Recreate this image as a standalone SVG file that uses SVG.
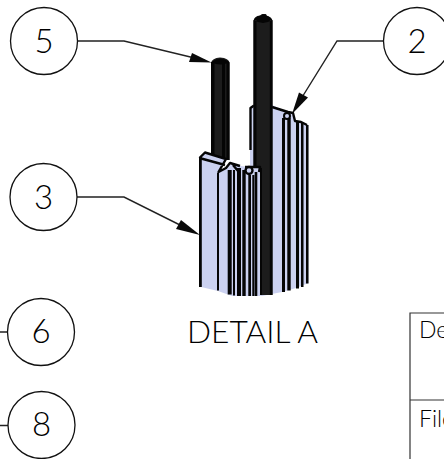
<svg xmlns="http://www.w3.org/2000/svg" width="444" height="459" viewBox="0 0 444 459">
<style>
text{font-family:"Lato","Liberation Sans",sans-serif;fill:#000;font-weight:300}
.num{font-size:33px;text-anchor:middle}
.bub{fill:#fff;stroke:#111;stroke-width:1.3}
.lead{fill:none;stroke:#222;stroke-width:1.4}
.ah{fill:#0a0a0a}
.blue{fill:#cbd1f0}
.dk{fill:#1c1c1c}
.blk{fill:#050505}
.edge{fill:none;stroke:#050505;stroke-width:2.400;stroke-linejoin:round}
.cell{fill:none;stroke:#333;stroke-width:1.200}
.cap{font-size:23px}
</style>
<rect width="444" height="459" fill="#fff"/>
<g id="part">
<path class="dk" d="M211 63Q212 58 220 57.500Q229 58 229.500 63V160H211Z"/>
<path class="blk" d="M211 62H214.500V160H211ZM222 62H225V160H222ZM226.500 62H229.500V160H226.500ZM211.500 62Q220 55 229.500 62Q220 67 211.500 62Z"/>
<path class="blue" d="M250 107L254 105H272L292 114L296 122L308.500 125V283L296 288L282 292L262 296L250 294Z"/>
<path class="edge" d="M250.500 150V108L254 105.500M272 107L288 112L293 113L295 121L301 122L307 125"/>
<circle cx="287" cy="116" r="3" fill="#cbd1f0" stroke="#050505" stroke-width="2"/>
<path class="blk" d="M282 118H285V292H282ZM287.300 118H290.700V290.500H287.300ZM296 122H299V288.500H296ZM301 123H303.500V287H301ZM306 125H308.500V283.500H306Z"/>
<path class="dk" d="M253.500 21Q254 16 260 15.500L262 14H266L267 16Q272 17 272.500 21V295H253.500Z"/>
<path class="blk" d="M253.500 20H256.500V295H253.500ZM269.800 20H272.500V295H269.800ZM260 168H262V295H260ZM254 20Q263 26 272 20Q270 16 266 15.500L264 14L261 15.500Q256 16 254 20Z"/>
<path class="blue" d="M199 157L205 152L226 159L219 172L226 168L233 163L240 166L260 168V296H232L218 291L199 286.500Z"/>
<path class="edge" d="M199.500 158L205 152.500L226 159L218.500 172L226 168L230 163L240 166M233 165L238 171M245 167H260L259 172M199.500 158L203 159L225 165"/>
<circle cx="249" cy="170.500" r="3.500" fill="#cbd1f0" stroke="#050505" stroke-width="2.400"/>
<path class="blk" d="M199 157H201.800V287H199ZM217 173H219V290.500H217ZM227.700 170H231.700V294.500H227.700ZM233 170H235V295.500H233ZM237 168H241V296H237ZM242.300 170H245.700V296H242.300ZM248.300 175H251V296H248.300ZM252.300 175H254.300V296H252.300ZM254.700 172H257.300V296H254.700Z"/>
</g>
<g id="connectors">
<path class="lead" d="M77 41H124L205 60.500"/>
<path class="ah" d="M211.500 62.500L189 62L192 53Z"/>
<path class="lead" d="M77 197H124L194 232"/>
<path class="ah" d="M200 235L176 229L181 220Z"/>
<path class="lead" d="M383.500 41H337L296 107"/>
<path class="ah" d="M292 114L299 92.500L308 97.500Z"/>
<path class="lead" d="M0 332H7.500M0 425.500H8"/>
</g>
<g id="n5"><circle class="bub" cx="44" cy="41" r="33.500"/><text class="num" x="44" y="52.500">5</text></g>
<g id="n3"><circle class="bub" cx="43.500" cy="197" r="33.500"/><text class="num" x="43.500" y="208.500">3</text></g>
<g id="n2"><circle class="bub" cx="417" cy="41" r="33.500"/><text class="num" x="417" y="52.500">2</text></g>
<g id="n6"><circle class="bub" cx="41" cy="332" r="33.500"/><text class="num" x="41" y="342.500">6</text></g>
<g id="n8"><circle class="bub" cx="41.500" cy="425" r="33.500"/><text class="num" x="41.500" y="436">8</text></g>
<g id="title"><text x="187" y="343" font-size="32" textLength="131" lengthAdjust="spacingAndGlyphs">DETAIL A</text></g>
<g id="table">
<path class="cell" d="M410 459V313H444M410 400H444"/>
<text class="cap" x="419" y="338">De</text>
<text class="cap" x="419" y="427">File</text>
</g>
</svg>
